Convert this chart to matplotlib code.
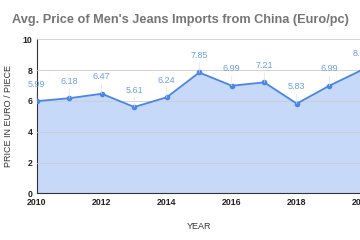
import matplotlib
matplotlib.use("Agg")
import matplotlib.pyplot as plt

years = [2010, 2011, 2012, 2013, 2014, 2015, 2016, 2017, 2018, 2019, 2020]
prices = [5.99, 6.18, 6.47, 5.61, 6.24, 7.85, 6.99, 7.21, 5.83, 6.99, 8.01]
price_labels = ["5.99", "6.18", "6.47", "5.61", "6.24", "7.85", "6.99", "7.21", "5.83", "6.99", "8.01"]
y_ticks = [0, 2, 4, 6, 8, 10]
x_ticks = [2010, 2012, 2014, 2016, 2018, 2020]

plt.rcParams["font.family"] = ["Liberation Sans", "DejaVu Sans"]

fig = plt.figure(figsize=(3.6, 2.4), dpi=100)
ax = fig.add_axes([0.102, 0.194, 0.903, 0.642])

ax.fill_between(years, prices, 0, color="#c6d9f8", zorder=1)
ax.plot(years, prices, color="#4a86e8", lw=1.3, marker="o", ms=3, zorder=3)

for x, y, t in zip(years, prices, price_labels):
    ax.annotate(t, (x, y), xytext=(0, 9), textcoords="offset points",
                ha="center", va="bottom", fontsize=6.5, color="#6d9eeb",
                arrowprops=dict(arrowstyle="-", color="#e0e0e0", lw=0.5,
                                shrinkA=0, shrinkB=0))

ax.set_xlim(2010, 2020)
ax.set_ylim(0, 10)
ax.set_yticks(y_ticks)
ax.set_xticks(x_ticks)
ax.grid(axis="y", color="#cccccc", lw=0.6, zorder=2)
ax.set_axisbelow(False)
for s in ["top", "right"]:
    ax.spines[s].set_visible(False)
ax.spines["left"].set_color("#333333")
ax.spines["bottom"].set_color("#333333")
ax.tick_params(length=0, labelsize=6.3, labelcolor="#222222", pad=3)
for lab in ax.get_xticklabels() + ax.get_yticklabels():
    lab.set_fontweight("bold")

ax.set_xlabel("YEAR", fontsize=6.5, color="#333333", labelpad=11)
ax.set_ylabel("PRICE IN EURO / PIECE", fontsize=6.5, color="#333333", labelpad=7)

fig.text(0.5, 0.915, "Avg. Price of Men's Jeans Imports from China (Euro/pc)",
         ha="center", va="center", fontsize=9.2, fontweight="bold", color="#757575")

fig.savefig("out.png", dpi=100)
